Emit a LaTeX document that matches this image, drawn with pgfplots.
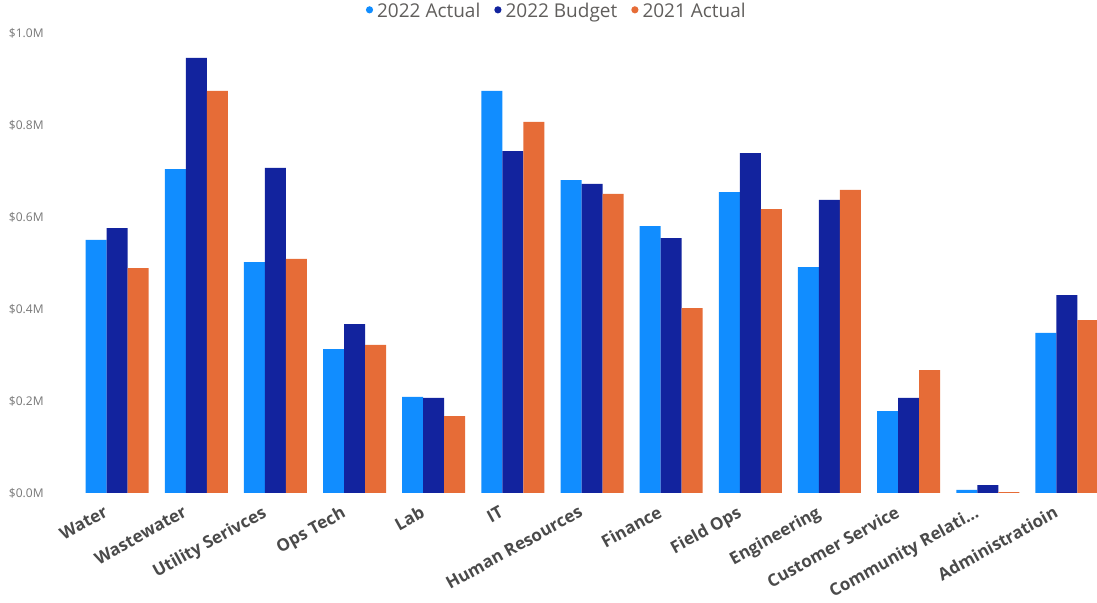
\documentclass[border=0pt]{standalone}
\usepackage{fontspec}
\setmainfont{Open Sans}
\usepackage{pgfplots}
\usepackage{pgfplotstable}
\pgfplotsset{compat=1.18}
\definecolor{cA}{HTML}{118DFF}
\definecolor{cB}{HTML}{12239E}
\definecolor{cC}{HTML}{E66C37}
\definecolor{labelgray}{HTML}{4A4A4A}
\definecolor{tickgray}{HTML}{777777}
\definecolor{legendgray}{HTML}{605E5C}
\pgfplotstableread{
x A B C
0 0.550 0.576 0.489
1 0.704 0.946 0.874
2 0.502 0.707 0.509
3 0.313 0.367 0.322
4 0.209 0.207 0.167
5 0.874 0.743 0.807
6 0.680 0.672 0.650
7 0.580 0.554 0.402
8 0.654 0.739 0.617
9 0.491 0.637 0.659
10 0.178 0.207 0.267
11 0.007 0.017 0.002
12 0.348 0.430 0.376
}\datatable
\begin{document}
\begin{tikzpicture}
\path[use as bounding box] (-24pt,-55pt) rectangle (524.5pt,246.5pt);
\begin{axis}[
 scale only axis, width=524.5pt, height=230pt,
 xmin=-0.873, xmax=12.38, ymin=0, ymax=1.0,
 ybar=0pt, bar width=10.5pt,
 axis line style={draw=none}, major tick style={draw=none},
 xtick={0,...,12},
 xticklabels={Water,Wastewater,Utility Serivces,Ops Tech,Lab,IT,Human Resources,Finance,Field Ops,Engineering,Customer Service,Community Relati…,Administratioin},
 xticklabel style={inner sep=0pt, xshift=-7pt, yshift=-1.5pt, rotate=29, anchor=north east, font=\bfseries\fontsize{8.5}{9}\selectfont, text=labelgray},
 ytick={0,0.2,0.4,0.6,0.8,1.0},
 yticklabels={\$0.0M,\$0.2M,\$0.4M,\$0.6M,\$0.8M,\$1.0M},
 yticklabel style={font=\fontsize{6}{7}\selectfont, text=tickgray, inner sep=0pt, xshift=-2pt},
 legend style={at={(0.486,1.046)}, anchor=center, draw=none, fill=none, legend columns=3, font=\fontsize{9.5}{11}\selectfont, text=legendgray, /tikz/every even column/.append style={column sep=5pt}},
 legend cell align=left,
]
\addplot[fill=cA, draw=none, legend image code/.code={\fill[cA] (0.1em,0.1em) circle (1.8pt);}] table[x=x,y=A] {\datatable};
\addplot[fill=cB, draw=none, legend image code/.code={\fill[cB] (0.1em,0.1em) circle (1.8pt);}] table[x=x,y=B] {\datatable};
\addplot[fill=cC, draw=none, legend image code/.code={\fill[cC] (0.1em,0.1em) circle (1.8pt);}] table[x=x,y=C] {\datatable};
\legend{2022 Actual,2022 Budget,2021 Actual}
\end{axis}
\end{tikzpicture}
\end{document}
